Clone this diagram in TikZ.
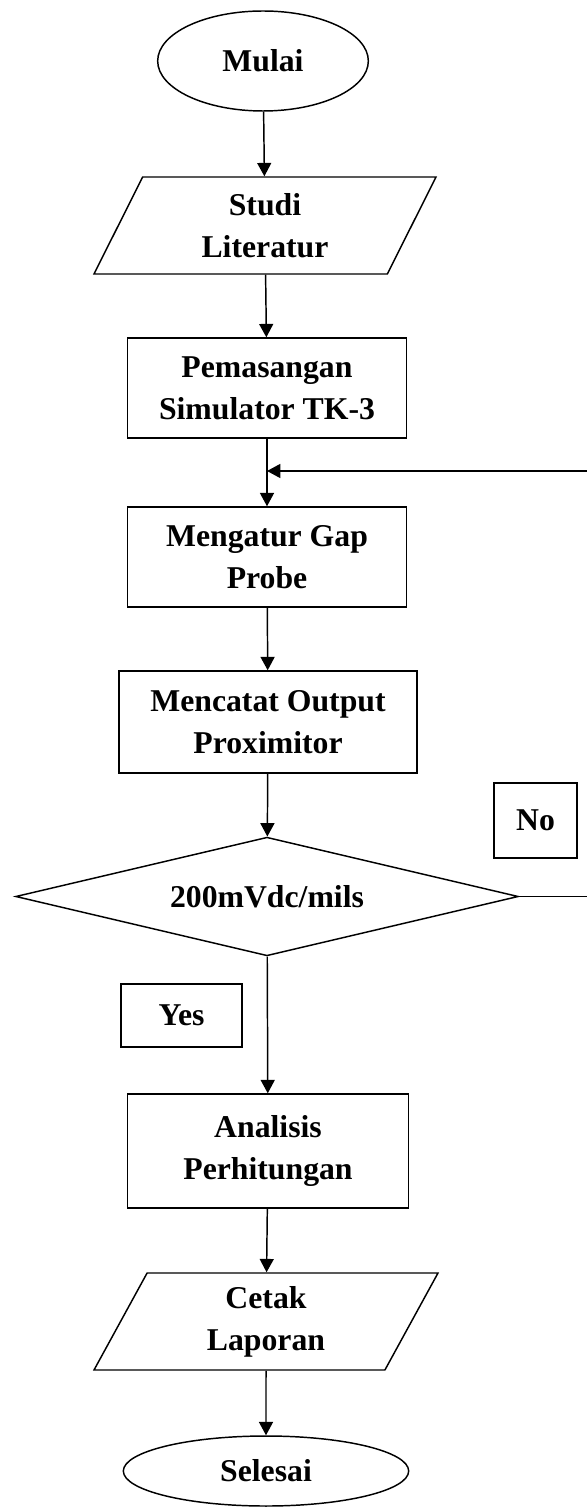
\documentclass[tikz,border=0pt]{standalone}
\usepackage{fontspec}
\setmainfont{Liberation Serif}
\usepackage{xcolor}
\usetikzlibrary{shapes.geometric,arrows.meta}
\definecolor{ink}{HTML}{000000}
\tikzset{
  base/.style={draw=ink, line width=1.1pt, text=ink, align=center, inner sep=2pt,
    font=\fontsize{23.8}{31.3}\selectfont\bfseries},
  proc/.style={base, rectangle},
  term/.style={base, ellipse},
  io/.style={base, trapezium, trapezium left angle=55, trapezium right angle=125,
    trapezium stretches body=true},
  cond/.style={base, diamond, aspect=4.2},
  tag/.style={base, rectangle},
  arr/.style={draw=ink, line width=1.1pt, -{Triangle[length=10pt,width=10.5pt]}},
}
\begin{document}
\begin{tikzpicture}[x=0.75pt,y=-0.75pt]
  \useasboundingbox (0,0) rectangle (586,1508);
  \node[term, minimum width=158pt, minimum height=75pt] (mulai) at (263,61) {Mulai};
  \node[io, minimum width=256.5pt, minimum height=72.75pt] (studi) at (265,225.5) {Studi\\Literatur};
  \node[proc, minimum width=209pt, minimum height=75pt] (pasang) at (267,388) {Pemasangan\\Simulator TK-3};
  \node[proc, minimum width=209pt, minimum height=75pt] (atur) at (267,557) {Mengatur Gap\\Probe};
  \node[proc, minimum width=223.5pt, minimum height=76.5pt] (catat) at (268,722) {Mencatat Output\\Proximitor};
  \node[cond, minimum width=377pt, minimum height=89pt] (cek) at (267,896.5) {200mVdc/mils};
  \node[tag, minimum width=62pt, minimum height=56pt] (no) at (535.5,820.5) {No};
  \node[tag, minimum width=91pt, minimum height=47pt] (yes) at (181.5,1015.5) {Yes};
  \node[proc, minimum width=211pt, minimum height=85.5pt] (analisis) at (268,1151) {Analisis\\Perhitungan};
  \node[io, minimum width=258pt, minimum height=72.75pt] (cetak) at (266,1321.5) {Cetak\\Laporan};
  \node[term, minimum width=214pt, minimum height=52.5pt] (selesai) at (266,1471) {Selesai};

  \draw[arr] (mulai) -- (studi);
  \draw[arr] (studi) -- (pasang);
  \draw[arr] (pasang) -- (atur);
  \draw[arr] (atur) -- (catat);
  \draw[arr] (catat) -- (cek);
  \draw[arr] (cek) -- (analisis);
  \draw[arr] (analisis) -- (cetak);
  \draw[arr] (cetak) -- (selesai);
  % jalur kembali (No)
  \coordinate (balik) at (592,471);
  \draw[arr] (cek.east) -| (balik) -- (pasang.south |- balik);
\end{tikzpicture}
\end{document}
